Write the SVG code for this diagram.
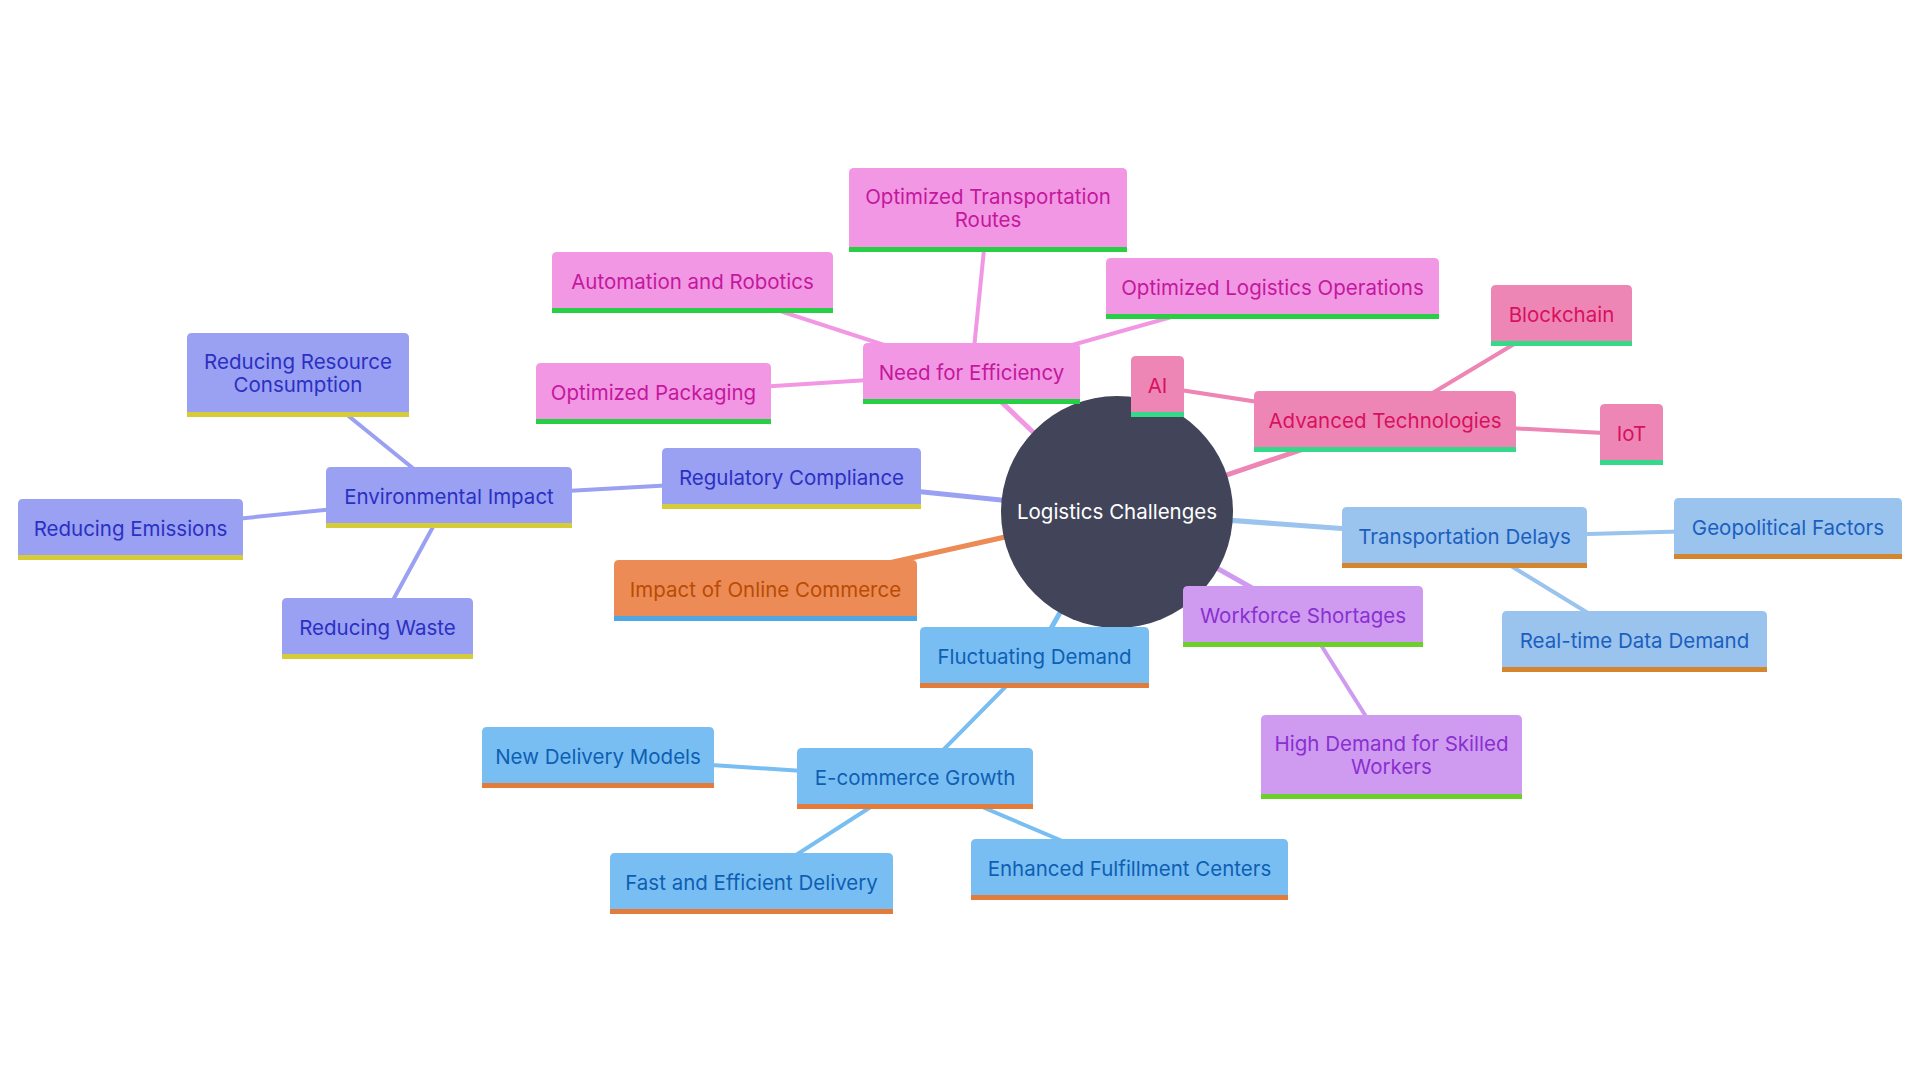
<svg xmlns="http://www.w3.org/2000/svg" width="1920" height="1080" viewBox="0 0 1920 1080">
<style>
text{font-family:Inter,"Noto Sans","Liberation Sans",sans-serif;font-size:20.5px;text-anchor:middle}
.e{fill:none;stroke-linecap:round}
.l1{stroke-width:5}
.l2{stroke-width:4}
.pk .b{fill:#f297e3}.pk text{fill:#c4179e}.pk .r{fill:#27cf45}
.mg .b{fill:#ed86b5}.mg text{fill:#d8105f}.mg .r{fill:#36d98a}
.vi .b{fill:#9aa0f2}.vi text{fill:#2b30c3}.vi .r{fill:#d6cc3a}
.or .b{fill:#ec8b55}.or text{fill:#b94b04}.or .r{fill:#4ea8e2}
.sk .b{fill:#79bef2}.sk text{fill:#0e5fb3}.sk .r{fill:#e37c3a}
.lb .b{fill:#9ac3ee}.lb text{fill:#1b5fbe}.lb .r{fill:#d5862c}
.lv .b{fill:#cf9bf1}.lv text{fill:#8a2fd0}.lv .r{fill:#6ccf2c}
</style>
<rect width="1920" height="1080" fill="#ffffff"/>
<g id="connectors">
<line class="e l1" x1="1117" y1="512" x2="971.5" y2="373.5" stroke="#f297e3"/>
<line class="e l2" x1="971.5" y1="373.5" x2="988" y2="210" stroke="#f297e3"/>
<line class="e l2" x1="971.5" y1="373.5" x2="692.5" y2="282.5" stroke="#f297e3"/>
<line class="e l2" x1="971.5" y1="373.5" x2="1272.5" y2="288.5" stroke="#f297e3"/>
<line class="e l2" x1="971.5" y1="373.5" x2="653.5" y2="393.5" stroke="#f297e3"/>
<line class="e l1" x1="1117" y1="512" x2="1385" y2="421.5" stroke="#ed86b5"/>
<line class="e l2" x1="1385" y1="421.5" x2="1157.5" y2="386.5" stroke="#ed86b5"/>
<line class="e l2" x1="1385" y1="421.5" x2="1561.5" y2="315.5" stroke="#ed86b5"/>
<line class="e l2" x1="1385" y1="421.5" x2="1631.5" y2="434.5" stroke="#ed86b5"/>
<line class="e l1" x1="1117" y1="512" x2="791.5" y2="478.5" stroke="#9aa0f2"/>
<line class="e l2" x1="791.5" y1="478.5" x2="449" y2="497.5" stroke="#9aa0f2"/>
<line class="e l2" x1="449" y1="497.5" x2="298" y2="375" stroke="#9aa0f2"/>
<line class="e l2" x1="449" y1="497.5" x2="130.5" y2="529.5" stroke="#9aa0f2"/>
<line class="e l2" x1="449" y1="497.5" x2="377.5" y2="628.5" stroke="#9aa0f2"/>
<line class="e l1" x1="1117" y1="512" x2="765.5" y2="590.5" stroke="#ec8b55"/>
<line class="e l1" x1="1117" y1="512" x2="1034.5" y2="657.5" stroke="#79bef2"/>
<line class="e l2" x1="1034.5" y1="657.5" x2="915" y2="778.5" stroke="#79bef2"/>
<line class="e l2" x1="915" y1="778.5" x2="598" y2="757.5" stroke="#79bef2"/>
<line class="e l2" x1="915" y1="778.5" x2="751.5" y2="883.5" stroke="#79bef2"/>
<line class="e l2" x1="915" y1="778.5" x2="1129.5" y2="869.5" stroke="#79bef2"/>
<line class="e l1" x1="1117" y1="512" x2="1464.5" y2="537.5" stroke="#9ac3ee"/>
<line class="e l2" x1="1464.5" y1="537.5" x2="1788" y2="528.5" stroke="#9ac3ee"/>
<line class="e l2" x1="1464.5" y1="537.5" x2="1634.5" y2="641.5" stroke="#9ac3ee"/>
<line class="e l1" x1="1117" y1="512" x2="1303" y2="616.5" stroke="#cf9bf1"/>
<line class="e l2" x1="1303" y1="616.5" x2="1391.5" y2="757" stroke="#cf9bf1"/>
</g>
<g id="root">
<circle cx="1117" cy="512" r="116" fill="#424559"/>
<text x="1117" y="519" fill="#ffffff">Logistics Challenges</text>
</g>
<g id="need-for-efficiency" class="pk"><path class="b" d="M863 404V348Q863 343 868 343H1075Q1080 343 1080 348V404Z"/><rect class="r" x="863" y="399" width="217" height="5"/><text x="971.5" y="379.5">Need for Efficiency</text></g>
<g id="optimized-transportation-routes" class="pk"><path class="b" d="M849 252V173Q849 168 854 168H1122Q1127 168 1127 173V252Z"/><rect class="r" x="849" y="247" width="278" height="5"/><text x="988" y="204"><tspan x="988">Optimized Transportation</tspan><tspan x="988" dy="23">Routes</tspan></text></g>
<g id="automation-and-robotics" class="pk"><path class="b" d="M552 313V257Q552 252 557 252H828Q833 252 833 257V313Z"/><rect class="r" x="552" y="308" width="281" height="5"/><text x="692.5" y="288.5">Automation and Robotics</text></g>
<g id="optimized-logistics-operations" class="pk"><path class="b" d="M1106 319V263Q1106 258 1111 258H1434Q1439 258 1439 263V319Z"/><rect class="r" x="1106" y="314" width="333" height="5"/><text x="1272.5" y="294.5">Optimized Logistics Operations</text></g>
<g id="optimized-packaging" class="pk"><path class="b" d="M536 424V368Q536 363 541 363H766Q771 363 771 368V424Z"/><rect class="r" x="536" y="419" width="235" height="5"/><text x="653.5" y="399.5">Optimized Packaging</text></g>
<g id="advanced-technologies" class="mg"><path class="b" d="M1254 452V396Q1254 391 1259 391H1511Q1516 391 1516 396V452Z"/><rect class="r" x="1254" y="447" width="262" height="5"/><text x="1385" y="427.5">Advanced Technologies</text></g>
<g id="ai" class="mg"><path class="b" d="M1131 417V361Q1131 356 1136 356H1179Q1184 356 1184 361V417Z"/><rect class="r" x="1131" y="412" width="53" height="5"/><text x="1157.5" y="392.5">AI</text></g>
<g id="blockchain" class="mg"><path class="b" d="M1491 346V290Q1491 285 1496 285H1627Q1632 285 1632 290V346Z"/><rect class="r" x="1491" y="341" width="141" height="5"/><text x="1561.5" y="321.5">Blockchain</text></g>
<g id="iot" class="mg"><path class="b" d="M1600 465V409Q1600 404 1605 404H1658Q1663 404 1663 409V465Z"/><rect class="r" x="1600" y="460" width="63" height="5"/><text x="1631.5" y="440.5">IoT</text></g>
<g id="regulatory-compliance" class="vi"><path class="b" d="M662 509V453Q662 448 667 448H916Q921 448 921 453V509Z"/><rect class="r" x="662" y="504" width="259" height="5"/><text x="791.5" y="484.5">Regulatory Compliance</text></g>
<g id="environmental-impact" class="vi"><path class="b" d="M326 528V472Q326 467 331 467H567Q572 467 572 472V528Z"/><rect class="r" x="326" y="523" width="246" height="5"/><text x="449" y="503.5">Environmental Impact</text></g>
<g id="reducing-resource-consumption" class="vi"><path class="b" d="M187 417V338Q187 333 192 333H404Q409 333 409 338V417Z"/><rect class="r" x="187" y="412" width="222" height="5"/><text x="298" y="369"><tspan x="298">Reducing Resource</tspan><tspan x="298" dy="23">Consumption</tspan></text></g>
<g id="reducing-emissions" class="vi"><path class="b" d="M18 560V504Q18 499 23 499H238Q243 499 243 504V560Z"/><rect class="r" x="18" y="555" width="225" height="5"/><text x="130.5" y="535.5">Reducing Emissions</text></g>
<g id="reducing-waste" class="vi"><path class="b" d="M282 659V603Q282 598 287 598H468Q473 598 473 603V659Z"/><rect class="r" x="282" y="654" width="191" height="5"/><text x="377.5" y="634.5">Reducing Waste</text></g>
<g id="impact-of-online-commerce" class="or"><path class="b" d="M614 621V565Q614 560 619 560H912Q917 560 917 565V621Z"/><rect class="r" x="614" y="616" width="303" height="5"/><text x="765.5" y="596.5">Impact of Online Commerce</text></g>
<g id="fluctuating-demand" class="sk"><path class="b" d="M920 688V632Q920 627 925 627H1144Q1149 627 1149 632V688Z"/><rect class="r" x="920" y="683" width="229" height="5"/><text x="1034.5" y="663.5">Fluctuating Demand</text></g>
<g id="e-commerce-growth" class="sk"><path class="b" d="M797 809V753Q797 748 802 748H1028Q1033 748 1033 753V809Z"/><rect class="r" x="797" y="804" width="236" height="5"/><text x="915" y="784.5">E-commerce Growth</text></g>
<g id="new-delivery-models" class="sk"><path class="b" d="M482 788V732Q482 727 487 727H709Q714 727 714 732V788Z"/><rect class="r" x="482" y="783" width="232" height="5"/><text x="598" y="763.5">New Delivery Models</text></g>
<g id="fast-and-efficient-delivery" class="sk"><path class="b" d="M610 914V858Q610 853 615 853H888Q893 853 893 858V914Z"/><rect class="r" x="610" y="909" width="283" height="5"/><text x="751.5" y="889.5">Fast and Efficient Delivery</text></g>
<g id="enhanced-fulfillment-centers" class="sk"><path class="b" d="M971 900V844Q971 839 976 839H1283Q1288 839 1288 844V900Z"/><rect class="r" x="971" y="895" width="317" height="5"/><text x="1129.5" y="875.5">Enhanced Fulfillment Centers</text></g>
<g id="transportation-delays" class="lb"><path class="b" d="M1342 568V512Q1342 507 1347 507H1582Q1587 507 1587 512V568Z"/><rect class="r" x="1342" y="563" width="245" height="5"/><text x="1464.5" y="543.5">Transportation Delays</text></g>
<g id="geopolitical-factors" class="lb"><path class="b" d="M1674 559V503Q1674 498 1679 498H1897Q1902 498 1902 503V559Z"/><rect class="r" x="1674" y="554" width="228" height="5"/><text x="1788" y="534.5">Geopolitical Factors</text></g>
<g id="real-time-data-demand" class="lb"><path class="b" d="M1502 672V616Q1502 611 1507 611H1762Q1767 611 1767 616V672Z"/><rect class="r" x="1502" y="667" width="265" height="5"/><text x="1634.5" y="647.5">Real-time Data Demand</text></g>
<g id="workforce-shortages" class="lv"><path class="b" d="M1183 647V591Q1183 586 1188 586H1418Q1423 586 1423 591V647Z"/><rect class="r" x="1183" y="642" width="240" height="5"/><text x="1303" y="622.5">Workforce Shortages</text></g>
<g id="high-demand-for-skilled-workers" class="lv"><path class="b" d="M1261 799V720Q1261 715 1266 715H1517Q1522 715 1522 720V799Z"/><rect class="r" x="1261" y="794" width="261" height="5"/><text x="1391.5" y="751"><tspan x="1391.5">High Demand for Skilled</tspan><tspan x="1391.5" dy="22.5">Workers</tspan></text></g>
</svg>
